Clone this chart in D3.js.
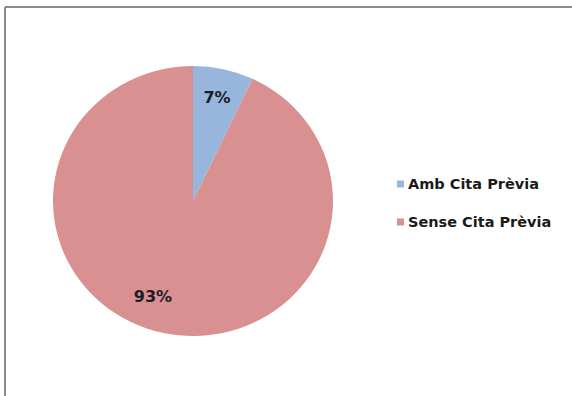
<!DOCTYPE html>
<html lang="ca">
<head>
    <meta charset="UTF-8">
    <script src="https://cdn.jsdelivr.net/npm/d3@7"></script>
    <style>
        body { margin: 0; background: #fff; }
        svg { display: block; }
        .lbl { font-family: "DejaVu Sans", sans-serif; font-weight: bold; }
    </style>
</head>
<body>
<svg id="chart"></svg>
<script>
    // data
    var categories = ["Amb Cita Prèvia", "Sense Cita Prèvia"];
    var values = [7, 93];
    var colors = ["#98B6DB", "#D99091"];

    var width = 572, height = 396;
    var svg = d3.select("#chart").attr("width", width).attr("height", height);

    // frame (only top and left edges show in the crop)
    svg.append("line").attr("x1", 5).attr("y1", 7).attr("x2", width).attr("y2", 7)
        .attr("stroke", "#8c8c8c").attr("stroke-width", 2);
    svg.append("line").attr("x1", 5).attr("y1", 7).attr("x2", 5).attr("y2", height)
        .attr("stroke", "#8c8c8c").attr("stroke-width", 2);

    var r = 140;
    var g = svg.append("g").attr("transform", "translate(193,201) scale(1," + (135 / 140) + ")");

    var pie = d3.pie().sort(null).value(function (d) { return d; });
    var arc = d3.arc().innerRadius(0).outerRadius(r);

    var arcs = pie(values);

    g.selectAll("path")
        .data(arcs)
        .enter().append("path")
        .attr("d", arc)
        .attr("fill", function (d, i) { return colors[i]; });

    // percent labels
    var total = d3.sum(values);
    var labelPos = [[217, 97], [153, 296]];
    svg.selectAll("text.pct")
        .data(arcs)
        .enter().append("text")
        .attr("class", "lbl pct")
        .attr("x", function (d, i) { return labelPos[i][0]; })
        .attr("y", function (d, i) { return labelPos[i][1]; })
        .attr("dy", "0.35em")
        .attr("text-anchor", "middle")
        .attr("font-size", 16)
        .attr("fill", "#1c1c28")
        .text(function (d) { return Math.round(d.data / total * 100) + "%"; });

    // legend
    var legend = svg.append("g").attr("transform", "translate(397,184)");
    var item = legend.selectAll("g")
        .data(categories)
        .enter().append("g")
        .attr("transform", function (d, i) { return "translate(0," + i * 38 + ")"; });
    item.append("rect")
        .attr("x", 0).attr("y", -3.5)
        .attr("width", 7).attr("height", 7)
        .attr("fill", function (d, i) { return colors[i]; });
    item.append("text")
        .attr("class", "lbl")
        .attr("x", 11)
        .attr("dy", "0.35em")
        .attr("font-size", 14.5)
        .attr("fill", "#1a1a1a")
        .text(function (d) { return d; });
</script>
</body>
</html>
